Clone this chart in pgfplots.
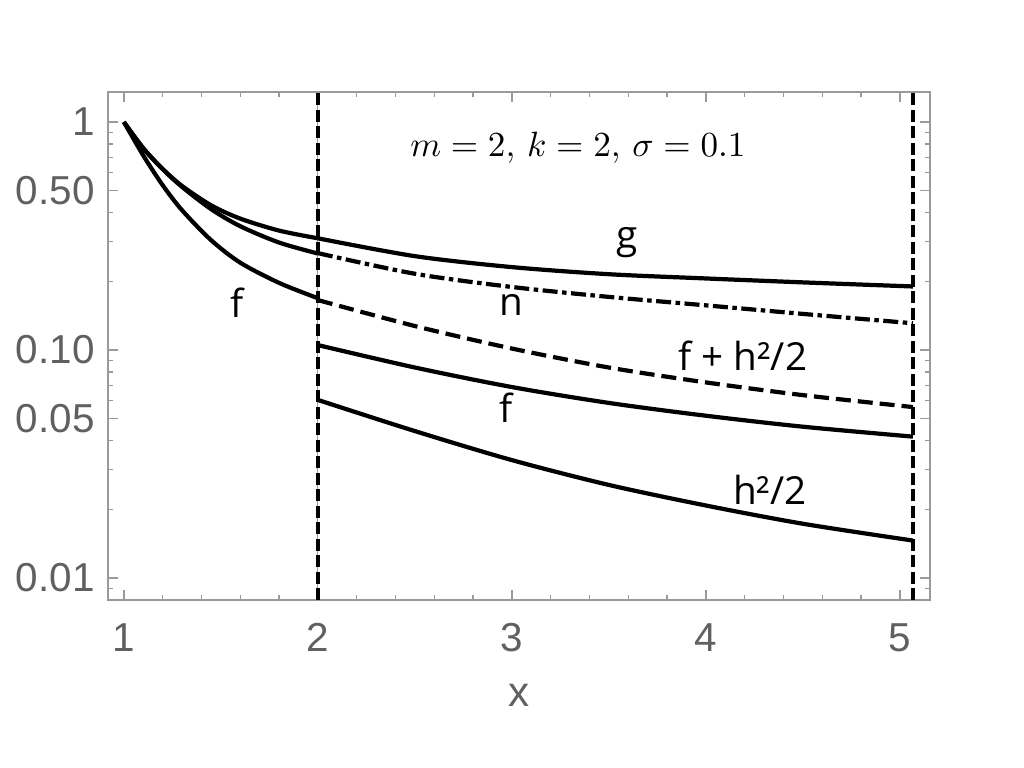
\documentclass[border=0pt]{standalone}
\usepackage{fontspec}
\setmainfont{Liberation Sans}
\newfontfamily\lab{Open Sans}
\usepackage{pgfplots}
\pgfplotsset{compat=1.18}
\definecolor{framegray}{HTML}{9A9A9A}
\definecolor{ticktext}{HTML}{606060}

\begin{document}
\begin{tikzpicture}[x=0.1mm,y=0.1mm]
\begin{axis}[
  scale only axis,
  width=82.2mm, height=50.8mm,
  ymode=log,
  xmin=0.918, xmax=5.155,
  ymin=0.00801, ymax=1.354,
  axis line style={framegray, line width=0.5pt},
  tick style={framegray, line width=0.4pt},
  major tick length=1mm, minor tick length=0.55mm,
  tick align=inside,
  xtick={1,2,3,4,5},
  minor x tick num=4,
  ytick={0.01,0.05,0.1,0.5,1},
  yticklabels={0.01,0.05,0.10,0.50,1},
  minor ytick={0.009,0.02,0.03,0.04,0.06,0.07,0.08,0.09,0.2,0.3,0.4,0.6,0.7,0.8,0.9},
  /pgf/number format/assume math mode=true,
  ticklabel style={font=\fontsize{11.5}{13}\selectfont, text=ticktext},
  xticklabel style={yshift=-1.1mm},
  yticklabel style={xshift=-0.1mm},
  xlabel={x},
  xlabel style={font=\fontsize{12}{14}\selectfont, text=ticktext, yshift=-0.8mm},
  clip=false,
  every axis plot/.append style={black, line width=1.2pt},
]
% thin grid line under the dashed marker
\addplot[framegray, line width=0.3pt] coordinates {(2,0.00801)(2,1.354)};

% segment x in [1,2]
% g
\addplot[smooth] coordinates {
  (1,1)(1.1,0.767)(1.2,0.622)(1.3,0.524)(1.45,0.431)(1.6,0.377)(1.8,0.334)(2,0.309)};
% n
\addplot[smooth] coordinates {
  (1,1)(1.1,0.767)(1.2,0.621)(1.3,0.519)(1.45,0.4145)(1.6,0.349)(1.8,0.296)(2,0.265)};
% f
\addplot[smooth] coordinates {
  (1,1)(1.1,0.713)(1.2,0.528)(1.3,0.410)(1.45,0.303)(1.6,0.2415)(1.8,0.197)(2,0.1687)};

% segment x in [2,5.067]
% g
\addplot[smooth] coordinates {
  (2,0.309)(2.5,0.258)(3,0.231)(3.5,0.215)(4,0.206)(4.5,0.198)(5.067,0.190)};
% n
\addplot[smooth, dash pattern=on 1.5mm off 0.45mm on 0.45mm off 0.45mm] coordinates {
  (2,0.266)(2.5,0.216)(3,0.189)(3.5,0.171)(4,0.157)(4.5,0.144)(5.067,0.131)};
% f + h^2/2
\addplot[smooth, dash pattern=on 1.5mm off 0.7mm] coordinates {
  (2,0.1656)(2.5,0.1274)(3,0.1015)(3.5,0.0838)(4,0.0721)(4.5,0.0634)(5.067,0.0562)};
% f
\addplot[smooth] coordinates {
  (2,0.1051)(2.5,0.0838)(3,0.0688)(3.5,0.0586)(4,0.0515)(4.5,0.0461)(5.067,0.0417)};
% h^2/2
\addplot[smooth] coordinates {
  (2,0.0604)(2.5,0.0441)(3,0.0329)(3.5,0.0256)(4,0.0208)(4.5,0.0173)(5.067,0.0146)};

% vertical markers
\addplot[line width=1.3pt, dash pattern=on 1.2mm off 0.45mm] coordinates {(2,0.00801)(2,1.354)};
\addplot[line width=1.3pt, dash pattern=on 1.2mm off 0.45mm] coordinates {(5.067,0.00801)(5.067,1.354)};

\node[font=\fontsize{10.4}{12}\selectfont] at (axis cs:3.34,0.769) {$m=2,\,k=2,\,\sigma=0.1$};
\begin{scope}[every node/.style={font=\lab\fontsize{11}{13}\selectfont}]
\node at (axis cs:3.593,0.295) {g};
\node at (axis cs:2.995,0.157) {n};
\node at (axis cs:1.582,0.162) {f};
\node at (axis cs:4.19,0.094) {f + h²/2};
\node at (axis cs:2.97,0.0557) {f};
\node at (axis cs:4.33,0.0243) {h²/2};
\end{scope}
\end{axis}
\pgfresetboundingbox
\useasboundingbox (-108,-168) rectangle (916,600);
\end{tikzpicture}
\end{document}
